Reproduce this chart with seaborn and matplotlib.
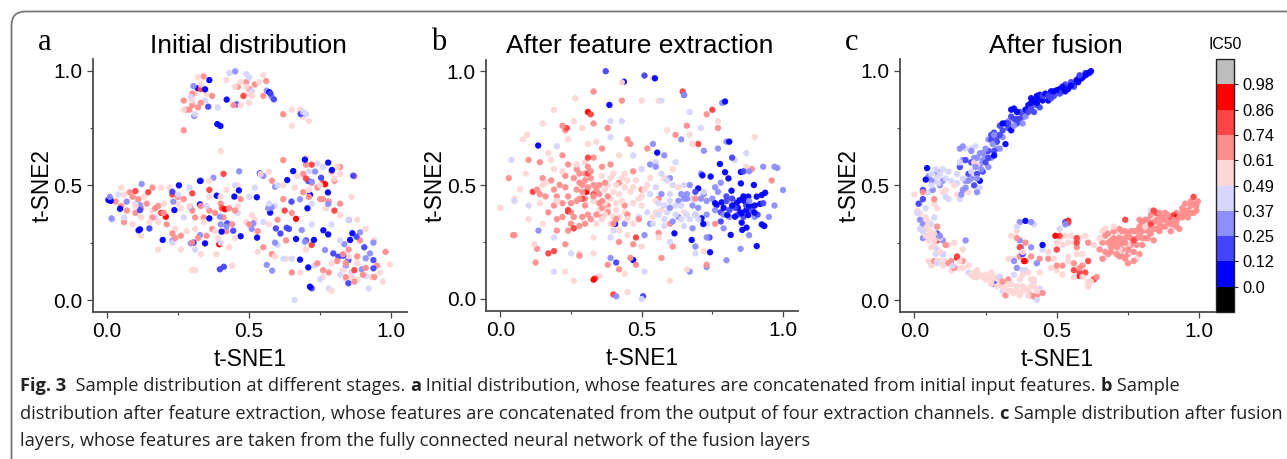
import matplotlib
matplotlib.use('Agg')
import matplotlib.pyplot as plt
import matplotlib as mpl
from matplotlib.colors import ListedColormap, BoundaryNorm
from matplotlib.patches import FancyBboxPatch
from matplotlib.transforms import IdentityTransform
import pandas as pd
import seaborn as sns

W, H = 1287, 459

# colour classes, low to high IC50
BINS = ['b1', 'b2', 'b3', 'b4', 'r1', 'r2', 'r3', 'r4']
BIN_COLORS = ['#0000ff', '#4444ff', '#8e8eff', '#d6d6ff', '#ffd6d6', '#ff8e8e', '#ff4444', '#ff0000']
BAR_COLORS = ['#000000'] + BIN_COLORS + ['#bdbdbd']
BAR_EDGES = [-0.12, 0.0, 0.12, 0.25, 0.37, 0.49, 0.61, 0.74, 0.86, 0.98, 1.10]
BAR_LABELS = ['0.0', '0.12', '0.25', '0.37', '0.49', '0.61', '0.74', '0.86', '0.98']

# panel a
A_B1 = [(.005,.436),(.013,.432),(.046,.398),(.116,.308),(.111,.304),(.196,.262),(.253,.5),(.327,.519),(.36,.959),(.345,.919),(.319,.924),(.421,.874),(.388,.767),(.399,.759),(.571,.906),(.36,.356),(.386,.455),(.448,.451),(.464,.478),(.47,.278),(.528,.272),(.527,.448),(.538,.552),(.574,.381),(.634,.523),(.655,.562),(.696,.612),(.778,.599),(.791,.567),(.714,.459),(.705,.4),(.777,.469),(.665,.266),(.728,.262),(.679,.176),(.708,.142),(.714,.058),(.863,.291),(.855,.262),(.761,.304),(.778,.286),(.304,.25),(.345,.247),(.403,.298),(.237,.392),(.327,.417)]
A_B2 = [(.011,.44),(.116,.392),(.149,.312),(.23,.472),(.356,.843),(.456,.853),(.575,.9),(.587,.875),(.681,.811),(.397,.134),(.411,.145),(.444,.302),(.423,.334),(.594,.312),(.632,.315),(.649,.429),(.708,.519),(.753,.533),(.866,.542),(.796,.203),(.814,.189),(.849,.174),(.937,.138),(.937,.174),(.905,.23),(.831,.193),(.849,.073),(.72,.051),(.878,.276),(.64,.31),(.61,.29),(.7,.26),(.33,.52)]
A_B3 = [(.451,.997),(.304,.933),(.307,.802),(.562,.913),(.579,.887),(.465,.561),(.55,.541),(.591,.494),(.579,.404),(.567,.4),(.509,.31),(.515,.334),(.591,.25),(.562,.153),(.581,.128),(.685,.305),(.696,.254),(.732,.56),(.72,.516),(.679,.439),(.778,.419),(.851,.349),(.835,.243),(.767,.218),(.89,.295),(.937,.25),(.896,.134),(.925,.203),(.91,.182),(.295,.247),(.23,.259),(.397,.363),(.327,.283),(.116,.414),(.069,.429),(.016,.356),(.122,.506),(.374,.533),(.292,.407),(.233,.429),(.01,.45),(.4,.33),(.42,.32),(.84,.15)]
A_B4 = [(.43,.99),(.49,.985),(.5,.97),(.345,.87),(.295,.885),(.31,.81),(.39,.84),(.51,.91),(.69,.82),(.7,.81),(.04,.46),(.018,.35),(.06,.36),(.1,.42),(.17,.36),(.25,.46),(.29,.49),(.27,.36),(.23,.25),(.31,.22),(.4,.25),(.52,.49),(.57,.42),(.59,.41),(.6,.5),(.55,.34),(.6,.24),(.62,.18),(.65,.18),(.66,.0),(.76,.58),(.74,.595),(.72,.33),(.73,.15),(.78,.05),(.71,.56),(.79,.33),(.85,.35),(.84,.16),(.86,.12),(.92,.05),(.91,.105),(.82,.11),(.75,.09),(.82,.26),(.45,.5),(.35,.41),(.46,.38),(.5,.45),(.72,.42)]
A_R1 = [(.32,.97),(.33,.94),(.42,.96),(.47,.95),(.55,.98),(.535,.95),(.51,.89),(.5,.86),(.47,.85),(.3,.87),(.27,.83),(.65,.83),(.68,.83),(.69,.8),(.71,.78),(.65,.76),(.4,.65),(.05,.49),(.06,.46),(.1,.41),(.13,.45),(.16,.39),(.19,.49),(.22,.49),(.25,.42),(.09,.33),(.12,.28),(.18,.22),(.26,.22),(.3,.13),(.31,.13),(.385,.2),(.33,.2),(.44,.15),(.43,.23),(.38,.3),(.42,.48),(.46,.5),(.51,.37),(.54,.55),(.57,.56),(.53,.21),(.57,.33),(.62,.5),(.67,.54),(.7,.62),(.75,.5),(.82,.55),(.81,.58),(.86,.45),(.77,.4),(.82,.37),(.88,.35),(.91,.31),(.94,.26),(.97,.08),(.995,.155),(.96,.12),(.86,.1),(.79,.04),(.63,.18),(.68,.12),(.59,.19),(.7,.22),(.26,.4),(.34,.34),(.36,.45),(.07,.43),(.12,.36),(.15,.34),(.18,.34),(.2,.42),(.24,.31),(.28,.3),(.31,.31),(.39,.27),(.45,.27),(.49,.34),(.4,.45),(.36,.52),(.29,.41),(.46,.41),(.52,.35),(.66,.49),(.71,.48),(.8,.53),(.85,.19),(.88,.16),(.83,.13),(.93,.1),(.84,.09),(.88,.09),(.79,.16),(.76,.1),(.35,.9),(.31,.9),(.45,.93),(.49,.93),(.5,.9)]
A_R2 = [(.34,.975),(.3,.9),(.27,.87),(.28,.83),(.32,.84),(.37,.89),(.5,.92),(.46,.93),(.445,.85),(.56,.955),(.55,.89),(.62,.81),(.27,.74),(.03,.43),(.05,.41),(.07,.39),(.08,.47),(.09,.45),(.11,.44),(.14,.42),(.16,.36),(.18,.41),(.16,.49),(.21,.33),(.23,.29),(.26,.28),(.25,.45),(.3,.39),(.3,.25),(.32,.27),(.34,.36),(.33,.41),(.36,.39),(.37,.31),(.4,.42),(.43,.4),(.44,.33),(.47,.44),(.5,.33),(.53,.3),(.55,.23),(.58,.2),(.58,.52),(.62,.61),(.62,.44),(.6,.35),(.65,.38),(.63,.26),(.65,.12),(.69,.55),(.7,.59),(.69,.47),(.75,.44),(.74,.49),(.78,.43),(.82,.58),(.8,.52),(.82,.42),(.87,.54),(.74,.16),(.78,.12),(.81,.17),(.84,.1),(.85,.22),(.89,.26),(.9,.11),(.95,.15),(.98,.21),(.87,.08),(.94,.1),(.1,.38),(.06,.34),(.12,.4),(.2,.38),(.17,.4),(.24,.27),(.27,.44),(.35,.28),(.38,.38),(.41,.36),(.42,.3),(.45,.39),(.31,.36),(.72,.51),(.76,.44),(.71,.45),(.79,.56),(.84,.16),(.88,.19),(.91,.14),(.83,.2),(.76,.13),(.3,.85),(.33,.86),(.29,.83),(.49,.95),(.52,.94)]
A_R3 = [(.1,.475),(.145,.47),(.19,.38),(.405,.4),(.41,.55),(.3,.465),(.23,.46),(.36,.48),(.625,.39),(.7,.53),(.72,.59),(.76,.51),(.72,.24),(.87,.13),(.8,.39),(.33,.92),(.48,.89)]
A_R4 = [(.207,.363),(.395,.243),(.415,.396),(.665,.354),(.767,.505)]

# panel b
B_B1 = [(.777,.592),(.715,.542),(.744,.537),(.795,.556),(.807,.529),(.851,.557),(.897,.5),(.851,.507),(.937,.466),(.925,.456),(.907,.449),(.877,.449),(.848,.434),(.836,.42),(.866,.427),(.919,.417),(.765,.412),(.783,.424),(.818,.475),(.7,.485),(.899,.379),(.854,.376),(.877,.368),(.83,.361),(.803,.368),(.854,.335),(.871,.313),(.856,.303),(.925,.327),(.934,.32),(.815,.281),(.907,.232),(.742,.205),(.677,.259),(.616,.288),(.712,.354),(.718,.329),(.134,.673),(.437,.953),(.547,.968),(.386,.851),(.795,.866),(.81,.69),(.47,.171),(.406,.329),(.86,.45),(.84,.4),(.87,.39),(.82,.41),(.88,.41),(.85,.38),(.79,.4),(.9,.41),(.76,.42),(.555,.642)]
B_B2 = [(.373,.999),(.65,.895),(.86,.56),(.82,.44),(.8,.45),(.83,.4),(.78,.38),(.89,.39),(.91,.37),(.86,.36),(.78,.34),(.74,.27),(.51,.98),(.82,.62),(.41,.16),(.505,.012),(.8,.43),(.87,.41),(.84,.37),(.81,.39),(.93,.42),(.69,.47)]
B_B3 = [(.135,.3),(.65,.895),(.785,.86),(.8,.69),(.72,.65),(.64,.7),(.54,.68),(.58,.63),(.71,.55),(.6,.53),(.53,.59),(.93,.58),(.97,.58),(.98,.575),(1.0,.478),(.97,.41),(.95,.36),(.88,.56),(.88,.28),(.85,.22),(.73,.27),(.69,.23),(.73,.14),(.8,.17),(.67,.12),(.44,.33),(.39,.18),(.41,.012),(.51,.28),(.68,.31),(.67,.5),(.66,.46),(.63,.43),(.66,.44),(.68,.41),(.7,.4),(.73,.43),(.76,.49),(.79,.31),(.63,.36),(.61,.34),(.53,.33),(.57,.46),(.6,.4),(.55,.58),(.77,.66),(.75,.44),(.72,.46),(.77,.47),(.76,.39),(.81,.36),(.79,.37),(.73,.37),(.84,.43),(.88,.43),(.9,.36),(.78,.51),(.71,.44),(.65,.44),(.64,.46),(.69,.37)]
B_B4 = [(.04,.61),(.05,.43),(.1,.41),(.19,.12),(.19,.27),(.25,.2),(.2,.67),(.39,.78),(.43,.78),(.57,.87),(.67,.82),(.71,.75),(.39,.71),(.47,.63),(.5,.57),(.55,.6),(.57,.55),(.62,.6),(.59,.52),(.55,.49),(.6,.46),(.58,.41),(.56,.37),(.62,.37),(.66,.37),(.69,.37),(.65,.32),(.58,.32),(.49,.36),(.39,.27),(.4,.3),(.54,.33),(.6,.25),(.7,.35),(.73,.33),(.69,.2),(.5,.0),(.51,.12),(.72,.47),(.64,.41),(.87,.64),(.83,.61),(.6,.43),(.62,.41),(.64,.35),(.67,.35),(.56,.42),(.59,.38),(.68,.44),(.65,.5),(.61,.5),(.53,.46),(.58,.35),(.52,.38)]
B_R1 = [(.0,.4),(.05,.44),(.07,.48),(.09,.55),(.08,.7),(.095,.72),(.15,.77),(.19,.83),(.265,.88),(.33,.91),(.43,.95),(.54,.97),(.56,.87),(.5,.87),(.59,.74),(.67,.72),(.77,.78),(.9,.71),(.87,.58),(.1,.35),(.12,.24),(.15,.33),(.17,.64),(.18,.61),(.24,.7),(.26,.78),(.29,.75),(.27,.59),(.31,.68),(.34,.69),(.42,.63),(.44,.55),(.47,.42),(.44,.49),(.5,.41),(.4,.47),(.41,.42),(.38,.39),(.36,.35),(.33,.43),(.42,.3),(.45,.28),(.33,.27),(.33,.2),(.28,.2),(.23,.12),(.26,.08),(.35,.1),(.44,.11),(.6,.08),(.5,.23),(.45,.35),(.51,.48),(.49,.44),(.55,.43),(.58,.53),(.53,.53),(.61,.57),(.68,.68),(.57,.39),(.63,.49),(.56,.27),(.66,.13),(.65,.38),(.16,.51),(.15,.5),(.19,.57),(.4,.55),(.38,.5),(.37,.48),(.42,.36),(.4,.36),(.39,.33),(.45,.03),(.54,.36),(.72,.21),(.42,.46),(.39,.44),(.37,.42),(.35,.39),(.43,.43),(.46,.47),(.48,.52),(.43,.53),(.41,.5),(.45,.52),(.39,.53),(.36,.54),(.44,.38),(.47,.33),(.41,.39),(.37,.37),(.34,.33),(.5,.45),(.52,.5),(.47,.49),(.55,.38),(.2,.43),(.14,.42),(.22,.56),(.3,.6)]
B_R2 = [(.03,.53),(.045,.28),(.05,.28),(.13,.22),(.125,.16),(.13,.48),(.14,.46),(.15,.53),(.18,.52),(.14,.6),(.1,.61),(.2,.45),(.2,.35),(.19,.41),(.22,.63),(.21,.5),(.24,.59),(.26,.53),(.23,.49),(.25,.42),(.28,.51),(.3,.55),(.32,.56),(.32,.53),(.29,.47),(.27,.43),(.26,.36),(.3,.33),(.34,.37),(.36,.43),(.35,.46),(.37,.51),(.33,.62),(.36,.66),(.39,.59),(.36,.4),(.38,.38),(.36,.36),(.41,.35),(.45,.37),(.49,.35),(.5,.48),(.47,.56),(.52,.66),(.45,.7),(.38,.75),(.33,.77),(.23,.74),(.22,.76),(.43,.87),(.33,.91),(.28,.32),(.23,.24),(.28,.19),(.38,.15),(.42,.13),(.46,.18),(.57,.18),(.48,.15),(.42,.25),(.47,.24),(.56,.29),(.61,.23),(.66,.76),(.62,.72),(.73,.81),(.77,.75),(.96,.52),(.89,.57),(.76,.33),(.73,.15),(.56,.44),(.6,.33),(.69,.44),(.46,.68),(.3,.41),(.34,.48),(.31,.37),(.28,.55),(.3,.52),(.33,.5),(.27,.48),(.29,.5),(.31,.49),(.35,.5),(.28,.44),(.24,.45),(.22,.42),(.3,.44),(.33,.45),(.25,.38),(.22,.36),(.25,.33),(.29,.36),(.32,.35),(.35,.42),(.38,.41),(.4,.33),(.44,.41),(.38,.45),(.42,.51),(.36,.58),(.31,.58),(.27,.57),(.23,.54),(.19,.48),(.16,.45),(.17,.38),(.24,.3),(.2,.3)]
B_R3 = [(.115,.47),(.24,.39),(.26,.31),(.17,.2),(.19,.21),(.31,.55),(.32,.81),(.31,.62),(.29,.44),(.335,.09),(.4,.02),(.645,.91),(.48,.27),(.7,.68),(.75,.83),(.235,.75),(.33,.46)]
B_R4 = [(.24,.385),(.305,.47),(.33,.085),(.31,.82)]

# panel c
C_B1 = [(.62,.998),(.61,.99),(.6,.98),(.59,.97),(.585,.965),(.57,.96),(.56,.94),(.55,.935),(.54,.92),(.52,.93),(.5,.915),(.49,.91),(.48,.91),(.46,.9),(.44,.895),(.44,.88),(.45,.87),(.42,.87),(.4,.85),(.39,.83),(.35,.835),(.34,.83),(.31,.77),(.32,.77),(.34,.74),(.32,.68),(.28,.63),(.045,.575),(.04,.525),(.39,.345),(.45,.24),(.23,.52),(.36,.82),(.41,.86),(.53,.91),(.58,.975),(.605,.985),(.575,.95),(.565,.95),(.525,.92),(.51,.92),(.47,.89),(.43,.89),(.41,.88),(.43,.86),(.47,.87)]
C_B2 = [(.615,.99),(.6,.99),(.58,.98),(.55,.95),(.53,.94),(.51,.9),(.47,.89),(.43,.85),(.41,.84),(.42,.82),(.39,.81),(.38,.8),(.37,.79),(.35,.79),(.36,.77),(.33,.75),(.3,.72),(.29,.71),(.28,.73),(.27,.7),(.29,.69),(.26,.65),(.28,.65),(.25,.6),(.2,.6),(.18,.61),(.16,.58),(.19,.55),(.21,.5),(.22,.55),(.24,.56),(.015,.42),(.03,.44),(.03,.48),(.53,.34),(.38,.2),(.28,.07),(.08,.29),(.3,.76),(.26,.62),(.56,.93),(.54,.93),(.49,.89),(.45,.89),(.44,.84),(.4,.82),(.37,.82),(.34,.8),(.36,.79),(.33,.77),(.31,.74),(.27,.72),(.52,.91),(.48,.88)]
C_B3 = [(.275,.68),(.25,.66),(.23,.64),(.24,.61),(.235,.57),(.21,.62),(.215,.58),(.19,.52),(.18,.52),(.17,.48),(.165,.46),(.17,.61),(.16,.66),(.17,.67),(.08,.56),(.1,.52),(.09,.5),(.06,.52),(.05,.54),(.065,.48),(.02,.35),(.03,.33),(.03,.27),(.09,.28),(.1,.26),(.18,.26),(.1,.2),(.31,.71),(.33,.78),(.28,.72),(.26,.7),(.41,.34),(.37,.34),(.53,.33),(.54,.335),(.37,.26),(.375,.23),(.41,.23),(.35,.17),(.36,.14),(.43,.16),(.2,.65),(.22,.47),(.38,.77),(.25,.63),(.23,.59),(.26,.58),(.22,.62),(.22,.53),(.2,.53),(.18,.49),(.39,.8),(.35,.76),(.3,.66),(.29,.66),(.27,.62),(.24,.64)]
C_B4 = [(.215,.67),(.2,.66),(.18,.66),(.16,.6),(.2,.56),(.17,.53),(.16,.44),(.23,.49),(.075,.57),(.08,.54),(.07,.52),(.09,.55),(.11,.53),(.12,.56),(.06,.55),(.05,.47),(.11,.45),(.12,.44),(.02,.42),(.01,.38),(.03,.32),(.06,.33),(.07,.36),(.09,.27),(.075,.2),(.1,.2),(.08,.16),(.135,.15),(.19,.12),(.31,.04),(.43,0),(.44,.05),(.35,.11),(.38,.13),(.36,.32),(.42,.33),(.51,.31),(.45,.22),(.39,.13),(.42,.08),(.83,.39),(.665,.18),(.3,.1),(.085,.51),(.1,.57),(.06,.5),(.13,.52),(.15,.55),(.15,.51),(.03,.3),(.02,.31),(.08,.22),(.04,.4)]
C_R1 = [(.0,.46),(.01,.39),(.02,.38),(.04,.31),(.03,.35),(.05,.34),(.055,.3),(.04,.28),(.05,.26),(.06,.23),(.07,.29),(.07,.24),(.08,.22),(.09,.21),(.05,.17),(.06,.15),(.08,.17),(.1,.15),(.12,.24),(.14,.25),(.17,.22),(.16,.17),(.17,.14),(.19,.15),(.13,.13),(.2,.11),(.21,.12),(.22,.13),(.23,.11),(.24,.1),(.25,.09),(.27,.12),(.27,.08),(.29,.08),(.3,.07),(.31,.06),(.32,.05),(.33,.04),(.34,.07),(.36,.06),(.37,.09),(.38,.04),(.39,.05),(.4,.02),(.41,.06),(.42,.09),(.43,.04),(.37,.02),(.35,.03),(.33,.18),(.35,.18),(.34,.28),(.36,.3),(.38,.21),(.4,.12),(.44,.12),(.5,.22),(.49,.18),(.51,.27),(.54,.25),(.55,.28),(.54,.19),(.52,.11),(.56,.1),(.59,.1),(.61,.08),(.61,.06),(.62,.08),(.59,.2),(.6,.28),(.58,.27),(.66,.3),(.67,.31),(.65,.27),(.78,.18),(.72,.22),(.76,.21),(.11,.48),(.1,.47),(.14,.5),(.15,.46),(.19,.47),(.21,.6),(.22,.59),(.08,.4),(.07,.42),(.27,.07),(.38,.11),(.63,.24),(.04,.36),(.045,.32),(.06,.28),(.07,.26),(.09,.17),(.11,.17),(.15,.14),(.21,.1),(.22,.1),(.25,.11),(.26,.1),(.28,.1),(.29,.06),(.33,.07),(.34,.04),(.4,.04),(.38,.06),(.36,.04),(.42,.06),(.41,.09),(.53,.28),(.52,.24),(.56,.25),(.57,.2),(.54,.17),(.5,.25),(.47,.21),(.48,.14),(.5,.13),(.72,.29),(.7,.32),(.75,.24),(.81,.32)]
C_R2 = [(.79,.2),(.75,.2),(.73,.19),(.71,.2),(.7,.24),(.68,.25),(.66,.25),(.65,.22),(.67,.21),(.69,.26),(.7,.3),(.72,.31),(.73,.3),(.75,.29),(.72,.27),(.74,.25),(.76,.27),(.77,.3),(.79,.28),(.79,.32),(.8,.3),(.81,.27),(.83,.29),(.85,.31),(.84,.34),(.82,.35),(.83,.37),(.86,.38),(.87,.36),(.88,.32),(.89,.34),(.9,.3),(.91,.33),(.9,.36),(.92,.38),(.94,.4),(.95,.37),(.96,.39),(.97,.41),(.98,.42),(.99,.41),(.98,.38),(.995,.43),(.93,.31),(.94,.36),(.88,.38),(.84,.26),(.77,.17),(.75,.16),(.73,.22),(.71,.26),(.68,.2),(.66,.18),(.87,.32),(.82,.32),(.92,.34),(.95,.42),(.86,.33),(.8,.24),(.78,.24),(.76,.24),(.74,.27),(.61,.25),(.57,.23),(.56,.16),(.58,.14),(.59,.15),(.63,.09),(.64,.1),(.52,.15),(.5,.15),(.47,.18),(.44,.18),(.41,.19),(.37,.19),(.36,.27),(.39,.25),(.32,.02),(.43,.02),(.42,.015),(.41,.02),(.45,.03),(.13,.17),(.14,.14),(.07,.17),(.11,.24),(.08,.32),(.12,.16),(.17,.17),(.07,.44),(.03,.47),(.31,.08),(.3,.1),(.33,.09),(.67,.28),(.69,.23),(.71,.23),(.73,.25),(.75,.22),(.77,.21),(.72,.19),(.74,.18),(.7,.27),(.68,.29),(.74,.3),(.78,.27),(.8,.27),(.82,.3),(.84,.31),(.86,.3),(.87,.35),(.85,.35),(.83,.33),(.88,.35),(.9,.33),(.91,.35),(.93,.36),(.92,.32),(.96,.36),(.97,.38),(.95,.39),(.94,.38),(.99,.39),(.97,.43),(.89,.37),(.81,.35),(.79,.35),(.78,.3),(.76,.3),(.86,.36),(.82,.27),(.8,.33),(.72,.24),(.69,.21)]
C_R3 = [(.74,.35),(.79,.31),(.83,.33),(.85,.38),(.9,.36),(.91,.37),(.98,.45),(.77,.26),(.57,.25),(.57,.27),(.54,.34),(.51,.28),(.5,.22),(.61,.17),(.6,.12),(.58,.12),(.56,.13),(.39,.17),(.37,.23),(.15,.19),(.08,.26),(.63,.09),(.84,.39)]
C_R4 = [(.495,.28),(.58,.105),(.92,.36),(.8,.34),(.15,.185),(.385,.17),(.54,.345)]

PANELS = [
    ('a', 'Initial distribution', [A_B1, A_B2, A_B3, A_B4, A_R1, A_R2, A_R3, A_R4], (93, 59, 407, 312), (107, 391.3), (300, 70.7), 38, 248),
    ('b', 'After feature extraction', [B_B1, B_B2, B_B3, B_B4, B_R1, B_R2, B_R3, B_R4], (486.3, 60, 797.7, 310.5), (500.3, 783), (299, 71), 431, 640),
    ('c', 'After fusion', [C_B1, C_B2, C_B3, C_B4, C_R1, C_R2, C_R3, C_R4], (900, 59, 1215, 312), (914.3, 1199.3), (300, 70.7), 845, 1056),
]

sns.set_theme(style='ticks')
plt.rcParams['font.family'] = ['Liberation Sans', 'DejaVu Sans']
plt.rcParams['axes.edgecolor'] = '#444444'
plt.rcParams['xtick.color'] = '#444444'
plt.rcParams['ytick.color'] = '#444444'

fig = plt.figure(figsize=(W / 100, H / 100), dpi=100)
fig.patch.set_facecolor('white')
fig.add_artist(FancyBboxPatch((11.5, -30), 1400, H - 11.5 + 30, boxstyle='round,pad=0,rounding_size=14',
                              transform=IdentityTransform(), fc='none', ec='#777777', lw=1.3))


def panel_frame(groups):
    rows = []
    for name, pts in zip(BINS, groups):
        for x, y in pts:
            rows.append({'x': x, 'y': y, 'bin': name})
    return pd.DataFrame(rows)


for letter, title, groups, box, xpx, ypx, letter_x, title_x in PANELS:
    left, top, right, bottom = box
    ax = fig.add_axes([left / W, 1 - bottom / H, (right - left) / W, (bottom - top) / H])
    # shuffled draw order only, so no colour class sits on top of the rest
    df = panel_frame(groups).sample(frac=1.0, random_state=3)
    sns.scatterplot(data=df, x='x', y='y', hue='bin', hue_order=BINS, palette=BIN_COLORS,
                    s=21, linewidth=0, legend=False, ax=ax, alpha=0.95)
    xs = (xpx[1] - xpx[0])
    ys = (ypx[0] - ypx[1])
    ax.set_xlim((left - xpx[0]) / xs, (right - xpx[0]) / xs)
    ax.set_ylim((ypx[0] - bottom) / ys, (ypx[0] - top) / ys)
    ax.set_xticks([0, 0.5, 1.0], ['0.0', '0.5', '1.0'])
    ax.set_yticks([0, 0.5, 1.0], ['0.0', '0.5', '1.0'])
    ax.set_xticks([0.25, 0.75], minor=True)
    ax.set_yticks([0.25, 0.75], minor=True)
    ax.tick_params(which='major', length=4.5, width=0.9, labelsize=15, labelcolor='black', pad=3)
    ax.tick_params(which='minor', length=2.5, width=0.8)
    ax.set_xlabel('t-SNE1', fontsize=16.3, color='black', labelpad=5)
    ax.set_ylabel('t-SNE2', fontsize=16.3, color='black', labelpad=0)
    sns.despine(ax=ax)
    ax.set_facecolor('none')
    fig.text(title_x / W, 1 - 53 / H, title, fontsize=19, color='black', ha='center', va='baseline')
    fig.text(letter_x / W, 1 - 50 / H, letter, fontsize=22, color='black', family=['Liberation Serif'], va='baseline')

# colour bar
cax = fig.add_axes([1216 / W, 1 - 312 / H, 18 / W, 253 / H])
cmap = ListedColormap(BAR_COLORS)
norm = BoundaryNorm(BAR_EDGES, cmap.N)
cb = mpl.colorbar.ColorbarBase(cax, cmap=cmap, norm=norm, spacing='uniform', ticks=BAR_EDGES[1:-1])
cb.set_ticklabels(BAR_LABELS)
cb.ax.tick_params(length=3, width=0.8, labelsize=11.8, labelcolor='black', color='#222222', pad=3, which='both')
cb.ax.minorticks_off()
cb.outline.set_edgecolor('#222222')
cb.outline.set_linewidth(1.0)
fig.text(1225 / W, 1 - 49 / H, 'IC50', fontsize=11.4, color='black', ha='center', va='baseline')

# caption, mixed bold and regular runs
CAPTION = [
    (391, [('Fig. 3', True), ('  Sample distribution at different stages. ', False), ('a', True),
           (' Initial distribution, whose features are concatenated from initial input features. ', False), ('b', True), (' Sample', False)]),
    (419, [('distribution after feature extraction, whose features are concatenated from the output of four extraction channels. ', False),
           ('c', True), (' Sample distribution after fusion', False)]),
    (446, [('layers, whose features are taken from the fully connected neural network of the fusion layers', False)]),
]
renderer = fig.canvas.get_renderer()
for ypos, runs in CAPTION:
    xpos = 20
    for txt, bold in runs:
        t = fig.text(xpos / W, 1 - ypos / H, txt, fontsize=13.15, family=['Open Sans', 'DejaVu Sans'],
                     fontweight='bold' if bold else 'normal', color='#222222', va='baseline')
        # trailing spaces are counted by matplotlib in the extent
        xpos = t.get_window_extent(renderer).x1

fig.savefig('out.png', dpi=100)
